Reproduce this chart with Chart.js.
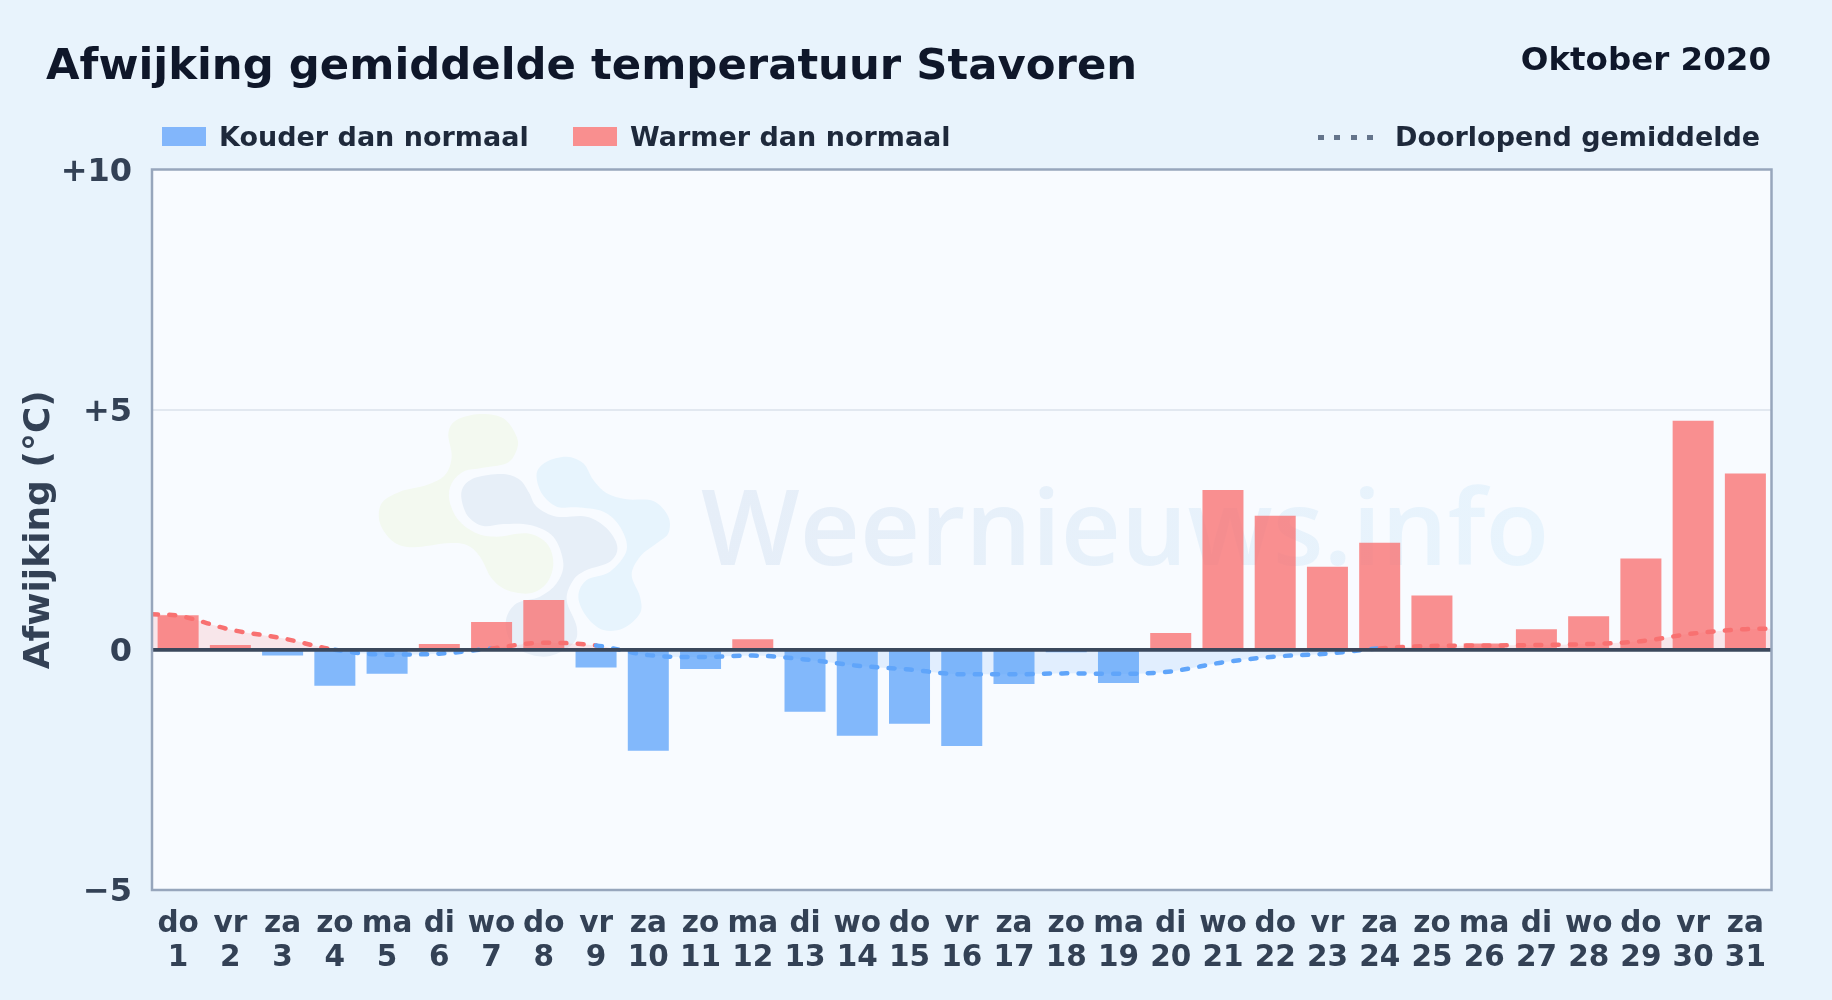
<!DOCTYPE html>
<html lang="nl">
<head>
<meta charset="utf-8">
<title>Afwijking gemiddelde temperatuur Stavoren</title>
<script src="https://cdn.jsdelivr.net/npm/chart.js@4"></script>
<style>
  html, body { margin: 0; padding: 0; background: #e8f3fc; }
  body { width: 1832px; height: 1000px; position: relative; overflow: hidden; font-family: "DejaVu Sans", sans-serif; font-weight: 700; }
  canvas { position: absolute; left: 0; top: 0; }
  .txt { position: absolute; white-space: nowrap; line-height: 1; }
  #titel { left: 46px; top: 43px; font-size: 43.35px; color: #0f172a; }
  #maand { right: 61px; top: 43px; font-size: 32.5px; color: #0f172a; }
  .leg { top: 123px; font-size: 27px; color: #1e293b; }
  .swatch { position: absolute; top: 127px; width: 44px; height: 19px; }
  #dots { position: absolute; left: 1318px; top: 135px; width: 55px; height: 5px;
    background: repeating-linear-gradient(90deg, #64748b 0, #64748b 6px, transparent 6px, transparent 16.3px); }
</style>
</head>
<body>
<canvas id="grafiek" width="1832" height="1000"></canvas>
<div class="txt" id="titel">Afwijking gemiddelde temperatuur Stavoren</div>
<div class="txt" id="maand">Oktober 2020</div>
<div class="swatch" style="left:162px;background:#82b6fb"></div>
<div class="txt leg" style="left:219px">Kouder dan normaal</div>
<div class="swatch" style="left:573px;background:#f98f8f"></div>
<div class="txt leg" style="left:630px">Warmer dan normaal</div>
<div id="dots"></div>
<div class="txt leg" style="left:1395px">Doorlopend gemiddelde</div>
<script>
const dagen = ["do","vr","za","zo","ma","di","wo","do","vr","za","zo","ma","di","wo","do","vr","za","zo","ma","di","wo","do","vr","za","zo","ma","di","wo","do","vr","za"];
const dagNummers = ["1","2","3","4","5","6","7","8","9","10","11","12","13","14","15","16","17","18","19","20","21","22","23","24","25","26","27","28","29","30","31"];

// afwijking per dag (graden)
const afwijking = [0.72,0.10,-0.12,-0.75,-0.50,0.12,0.58,1.04,-0.37,-2.10,-0.40,0.22,-1.29,-1.79,-1.54,-2.00,-0.71,-0.05,-0.69,0.35,3.33,2.79,1.73,2.23,1.13,0.13,0.43,0.70,1.90,4.77,3.67];

// doorlopend gemiddelde, x loopt van 0 tot 31 (rand tot rand)
const gemiddeldX = [0,0.5,1.5,2.5,3.5,4.5,5.5,6.5,7.5,8.5,9.5,10.5,11.5,12.5,13.5,14.5,15.5,16.5,17.5,18.5,19.5,20.5,21.5,22.5,23.5,24.5,25.5,26.5,27.5,28.5,29.5,30.5,31];
const gemiddeld = [0.74,0.71,0.42,0.24,0,-0.10,-0.08,0.03,0.15,0.09,-0.11,-0.15,-0.12,-0.20,-0.33,-0.41,-0.51,-0.51,-0.49,-0.50,-0.45,-0.26,-0.14,-0.08,0.03,0.08,0.09,0.10,0.12,0.18,0.34,0.43,0.44];

const yTicks = { "10": "+10", "5": "+5", "0": "0", "-5": "\u22125" };

const kouder = afwijking.map((v) => (v < 0 ? v : null));
const warmer = afwijking.map((v) => (v >= 0 ? v : null));

// logo achter de grafiek
const logoGroen = [[235,100],[260,60],[330,42],[400,55],[440,110],[440,150],[410,190],[330,205],[280,215],[245,250],[238,300],[265,360],[320,400],[380,410],[470,400],[530,430],[550,490],[530,550],[480,580],[410,570],[365,535],[330,470],[290,435],[230,430],[130,442],[70,425],[30,370],[35,310],[90,275],[170,255],[225,225],[245,170]];
const logoMidden = [[280,260],[320,232],[400,222],[450,240],[478,280],[500,320],[560,350],[650,350],[710,385],[742,440],[720,485],[650,510],[610,540],[590,600],[620,680],[610,730],[540,768],[470,760],[420,720],[408,660],[440,610],[510,590],[560,550],[580,490],[550,410],[480,375],[400,372],[340,378],[295,350],[275,300]];
const logoBlauw = [[500,220],[530,185],[590,170],[640,190],[670,240],[710,280],[770,298],[850,303],[895,350],[895,400],[860,430],[810,470],[785,525],[810,590],[810,640],[760,685],[700,690],[650,650],[625,590],[650,540],[720,515],[770,450],[750,380],[700,335],[620,322],[560,320],[515,280]];

function blob(ctx, punten, kleur) {
  const p = punten.map(([x, y]) => [370 + x / 3, 400 + y / 3]);
  const n = p.length;
  ctx.beginPath();
  ctx.moveTo(p[0][0], p[0][1]);
  for (let i = 0; i < n; i++) {
    const a = p[(i - 1 + n) % n], b = p[i], c = p[(i + 1) % n], d = p[(i + 2) % n];
    ctx.bezierCurveTo(b[0] + (c[0] - a[0]) / 6, b[1] + (c[1] - a[1]) / 6, c[0] - (d[0] - b[0]) / 6, c[1] - (d[1] - b[1]) / 6, c[0], c[1]);
  }
  ctx.closePath();
  ctx.fillStyle = kleur;
  ctx.fill();
}

const achtergrond = {
  id: "achtergrond",
  beforeDraw(chart) {
    const { ctx, chartArea: a } = chart;
    ctx.save();
    ctx.fillStyle = "#f8fbff";
    ctx.fillRect(a.left, a.top, a.right - a.left, a.bottom - a.top);
    blob(ctx, logoGroen, "#f3f9f0");
    blob(ctx, logoMidden, "#e7eff8");
    blob(ctx, logoBlauw, "#e7f4fd");
    const g = ctx.createLinearGradient(701, 0, 1548, 0);
    g.addColorStop(0, "#e6eef8");
    g.addColorStop(1, "#e8f4fd");
    ctx.font = '600 104.5px "Open Sans"';
    ctx.fillStyle = g;
    ctx.textBaseline = "alphabetic";
    ctx.fillText("Weernieuws.info", 701, 565);
    ctx.restore();
  },
  afterDraw(chart) {
    const { ctx, chartArea: a, scales } = chart;
    const y0 = scales.y.getPixelForValue(0);
    ctx.save();
    // nullijn boven de balken
    ctx.strokeStyle = "#3b485c";
    ctx.lineWidth = 3.7;
    ctx.beginPath();
    ctx.moveTo(a.left, y0);
    ctx.lineTo(a.right, y0);
    ctx.stroke();
    ctx.strokeStyle = "#97a6bc";
    ctx.lineWidth = 2.5;
    ctx.strokeRect(a.left, a.top, a.right - a.left, a.bottom - a.top);
    ctx.restore();
  },
};

Chart.defaults.font.family = '"DejaVu Sans"';
Chart.defaults.font.weight = "bold";

new Chart(document.getElementById("grafiek").getContext("2d"), {
  type: "bar",
  plugins: [achtergrond],
  data: {
    labels: dagen.map((d, i) => [d, dagNummers[i]]),
    datasets: [
      {
        type: "line",
        label: "Doorlopend gemiddelde",
        data: gemiddeldX.map((x, i) => ({ x: x, y: gemiddeld[i] })),
        xAxisID: "x2",
        order: 0,
        pointRadius: 0,
        borderWidth: 4.5,
        borderDash: [6, 11.3],
        borderCapStyle: "round",
        cubicInterpolationMode: "monotone",
        borderColor: "#f87171",
        segment: {
          borderColor: (c) => (Math.min(c.p0.parsed.y, c.p1.parsed.y) < 0 ? "#60a5fa" : "#f87171"),
        },
        fill: { target: { value: 0 }, above: "rgba(248,113,113,0.15)", below: "rgba(96,165,250,0.15)" },
      },
      {
        label: "Kouder dan normaal",
        data: kouder,
        order: 1,
        grouped: false,
        barPercentage: 0.785,
        categoryPercentage: 1,
        backgroundColor: "rgba(96,165,250,0.78)",
      },
      {
        label: "Warmer dan normaal",
        data: warmer,
        order: 1,
        grouped: false,
        barPercentage: 0.785,
        categoryPercentage: 1,
        backgroundColor: "rgba(248,113,113,0.78)",
      },
    ],
  },
  options: {
    responsive: false,
    animation: false,
    devicePixelRatio: 1,
    layout: { padding: { top: 169.5, right: 60.5, bottom: 0, left: 0 } },
    plugins: { legend: { display: false }, tooltip: { enabled: false } },
    scales: {
      x: {
        grid: { display: false },
        border: { display: false },
        afterFit: (s) => { s.height = 110; },
        ticks: { autoSkip: false, maxRotation: 0, padding: 9, color: "#334155", font: { size: 29.5, lineHeight: 1.15 } },
      },
      x2: { type: "linear", display: false, min: 0, max: 31, offset: false },
      y: {
        min: -5,
        max: 10,
        border: { display: false },
        afterFit: (s) => { s.width = 152; },
        grid: {
          drawTicks: false,
          lineWidth: 2,
          color: (c) => (c.tick && c.tick.value === 5 ? "#e2e8f0" : "transparent"),
        },
        ticks: {
          stepSize: 5,
          padding: 20,
          labelOffset: 3,
          color: "#334155",
          font: { size: 32 },
          callback: (v) => yTicks[String(v)],
        },
        title: {
          display: true,
          text: "Afwijking (\u00b0C)",
          color: "#334155",
          font: { size: 36 },
          padding: { top: 18, bottom: 0 },
        },
      },
    },
  },
});
</script>
</body>
</html>
